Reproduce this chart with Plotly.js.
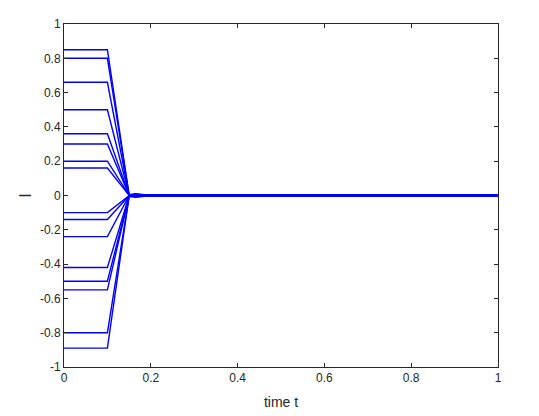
<!DOCTYPE html>
<html>
<head>
<meta charset="utf-8">
<script src="https://cdn.plot.ly/plotly-3.0.1.min.js"></script>
<style>
  html, body { margin: 0; padding: 0; background: #fff; }
  #plot { width: 539px; height: 416px; }
</style>
</head>
<body>
<div id="plot"></div>
<script>
// time samples of each trajectory
const timeT = [0, 0.1, 0.15, 0.165, 0.2, 1];

// initial values of the 16 trajectories
const startVals = [0.85, 0.80, 0.66, 0.50, 0.36, 0.30, 0.20, 0.16,
                   -0.10, -0.14, -0.24, -0.42, -0.50, -0.55, -0.80, -0.89];
// small residual right after the collapse
const knotVals = [0.004, 0.003, 0.002, 0.002, 0.001, 0.001, 0.001, 0.0005,
                  -0.0005, -0.001, -0.001, -0.002, -0.002, -0.003, -0.004, -0.005];
const spreadVals = [0.010, 0.008, 0.006, 0.005, 0.004, 0.003, 0.002, 0.001,
                    -0.001, -0.002, -0.003, -0.004, -0.005, -0.006, -0.008, -0.010];

const xTicks = [0, 0.2, 0.4, 0.6, 0.8, 1];
const yTicks = [-1, -0.8, -0.6, -0.4, -0.2, 0, 0.2, 0.4, 0.6, 0.8, 1];

const FONT = 'Liberation Sans, Arial, sans-serif';

const traces = startVals.map((v, i) => ({
  x: timeT,
  y: [v, v, knotVals[i], spreadVals[i], 0, 0],
  mode: 'lines', type: 'scatter',
  line: { color: '#0000ff', width: 1.4 },
  hoverinfo: 'skip',
}));

const axisCommon = {
  showgrid: false, zeroline: false,
  showline: true, mirror: 'ticks', linecolor: '#262626', linewidth: 1,
  ticks: 'inside', ticklen: 4, tickcolor: '#262626',
  tickfont: { family: FONT, size: 12, color: '#262626' },
};

Plotly.newPlot('plot', traces, {
  width: 539, height: 416,
  margin: { l: 64, r: 41, t: 24, b: 49 },
  paper_bgcolor: '#fff', plot_bgcolor: '#fff',
  showlegend: false,
  xaxis: Object.assign({}, axisCommon, {
    range: [0, 1], tickvals: xTicks, ticktext: xTicks.map(String),
    title: { text: 'time t', standoff: 12,
      font: { family: FONT, size: 14, color: '#262626' } },
  }),
  yaxis: Object.assign({}, axisCommon, {
    range: [-1, 1], tickvals: yTicks, ticktext: yTicks.map(String),
    title: { text: 'I', standoff: 4,
      font: { family: FONT, size: 16, color: '#262626' } },
  }),
}, { displayModeBar: false, staticPlot: true });
</script>
</body>
</html>
